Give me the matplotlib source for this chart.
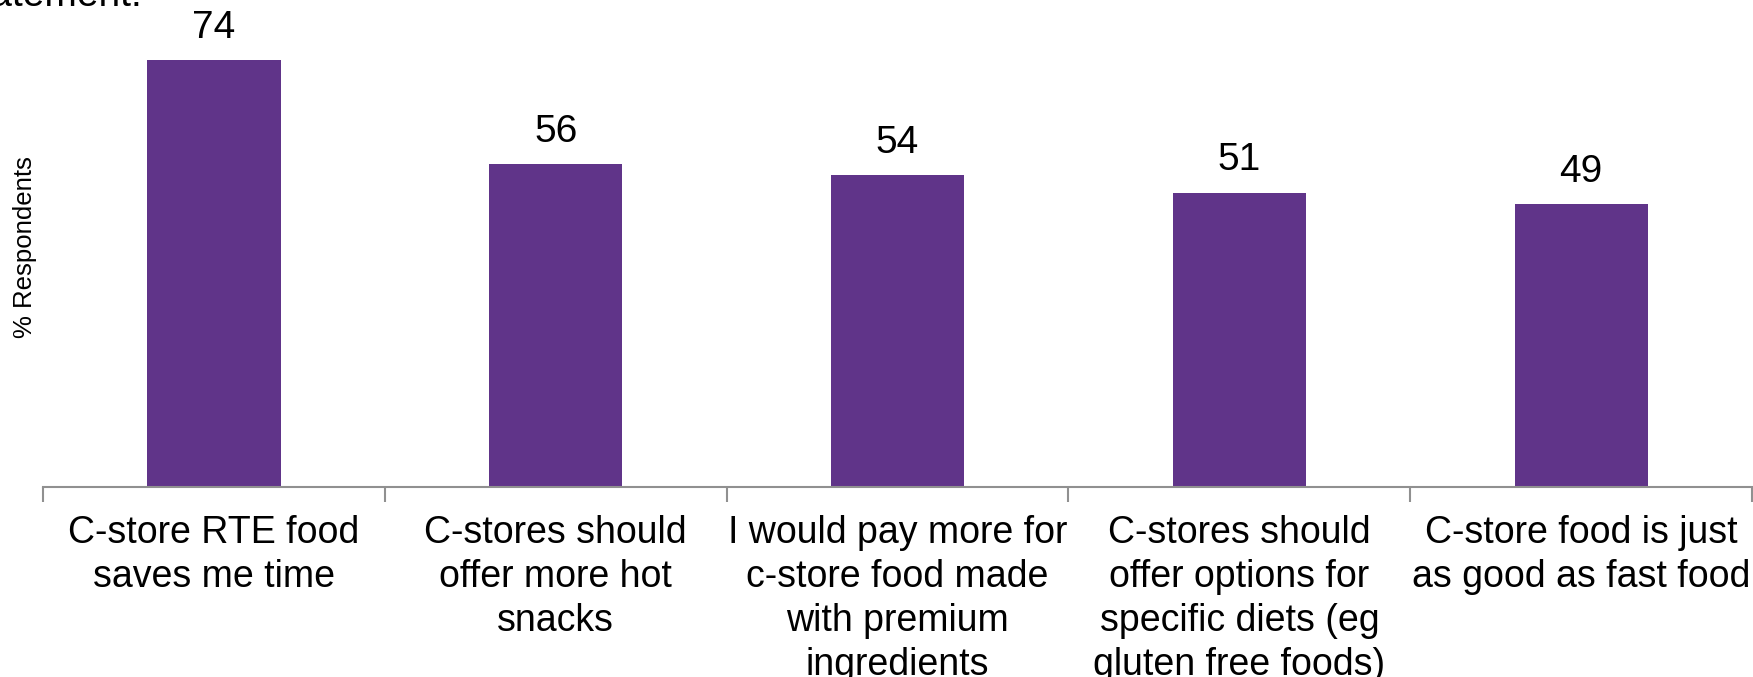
import matplotlib
matplotlib.use('Agg')
import matplotlib.pyplot as plt

# survey statements and % respondents agreeing
statements = [
    "C-store RTE food\nsaves me time",
    "C-stores should\noffer more hot\nsnacks",
    "I would pay more for\nc-store food made\nwith premium\ningredients",
    "C-stores should\noffer options for\nspecific diets (eg\ngluten free foods)",
    "C-store food is just\nas good as fast food",
]
pct = [74, 56, 54, 51, 49]

plt.rcParams['font.family'] = ['Liberation Sans', 'DejaVu Sans']

fig = plt.figure(figsize=(17.53, 6.77), dpi=100)
ax = fig.add_axes([0.0245, 0.2807, 0.975, 0.682])

x = range(len(pct))
bars = ax.bar(x, pct, width=0.39, color='#603489')

# value labels above bars
for xi, v in zip(x, pct):
    ax.annotate(str(v), (xi, v), xytext=(0, 16), textcoords='offset points',
                ha='center', va='baseline', fontsize=28)

ax.set_xlim(-0.5, len(pct) - 0.5)
ax.set_ylim(0, 80)

ax.set_xticks(list(x))
ax.set_xticklabels(statements, fontsize=27, linespacing=1.29)
ax.tick_params(axis='x', which='major', length=0, pad=20)
ax.set_xticks([i - 0.5 for i in range(len(pct) + 1)], minor=True)
ax.tick_params(axis='x', which='minor', length=11, color='#909090', width=1.5)

ax.set_yticks([])
for side in ['top', 'right', 'left']:
    ax.spines[side].set_visible(False)
ax.spines['bottom'].set_color('#909090')
ax.spines['bottom'].set_linewidth(1.5)

fig.text(0.0143, 0.635, '% Respondents', rotation=90, ha='center', va='center', fontsize=18.5)

# title cut off at top edge of the image
fig.text(-0.022, 0.991, 'statement:', ha='left', va='baseline', fontsize=28)

fig.savefig('out.png', dpi=100)
